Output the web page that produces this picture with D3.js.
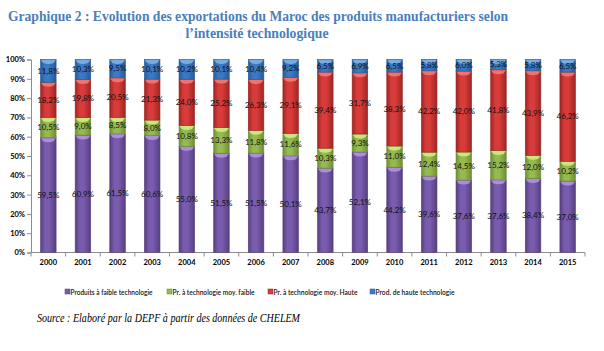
<!DOCTYPE html>
<html>
<head>
<meta charset="utf-8">
<script src="https://cdn.jsdelivr.net/npm/d3@7"></script>
<style>
  body { margin: 0; background: #fff; }
  svg { display: block; }
  .title { font-family: "Liberation Serif", "DejaVu Serif", serif; font-weight: bold; fill: #4a7ebb; }
  .axis text { font-family: Lato, "Liberation Sans", sans-serif; font-weight: bold; font-size: 7.5px; fill: #000; }
  .axis path, .axis line { stroke: #8c8c8c; }
  .lbl { font-family: Lato, "Liberation Sans", sans-serif; font-size: 8px; fill: #111; }
  .legend text { font-family: Lato, "Liberation Sans", sans-serif; font-size: 7.8px; font-weight: 600; fill: #111; }
  .source { font-family: "Liberation Serif", serif; font-style: italic; font-size: 13.5px; fill: #000; }
</style>
</head>
<body>
<div id="chart"></div>
<script>
// years on the x axis
const years = ['2000','2001','2002','2003','2004','2005','2006','2007',
               '2008','2009','2010','2011','2012','2013','2014','2015'];

// shares in %
const faible   = [59.5, 60.9, 61.5, 60.6, 55.0, 51.5, 51.5, 50.1, 43.7, 52.1, 44.2, 39.6, 37.6, 37.6, 38.4, 37.0];
const moyFaible = [10.5, 9.0, 8.5, 8.0, 10.8, 13.3, 11.8, 11.6, 10.3, 9.3, 11.0, 12.4, 14.5, 15.2, 12.0, 10.2];
const moyHaute = [18.2, 19.8, 20.5, 21.3, 24.0, 25.2, 26.3, 29.1, 39.4, 31.7, 38.3, 42.2, 42.0, 41.8, 43.9, 46.2];
const haute    = [11.8, 10.3, 9.5, 10.1, 10.2, 10.1, 10.4, 9.2, 6.5, 6.9, 6.5, 5.8, 6.0, 5.3, 5.8, 6.5];

const seriesNames = ['Produits à faible technologie', 'Pr. à technologie moy. faible',
                     'Pr. à technologie moy. Haute', 'Prod. de haute technologie'];
const yTicks = [0, 0.1, 0.2, 0.3, 0.4, 0.5, 0.6, 0.7, 0.8, 0.9, 1];

const colors = ['#7a5cae', '#97ba50', '#d83c3a', '#3b79c4'];
const lightColors = ['#b193e0', '#d0ea84', '#f27a76', '#7cb2ea'];
const darkColors = ['#55407f', '#6e8f33', '#9e2624', '#285a98'];

const W = 604, H = 351;
const margin = {left: 31, right: 19, top: 59.5, bottom: 98.5};

const svg = d3.select('#chart').append('svg')
  .attr('width', W).attr('height', H);

// title
svg.append('text').attr('class', 'title')
  .attr('x', 258).attr('y', 21).attr('text-anchor', 'middle').style('font-size', '15px')
  .attr('textLength', 500).attr('lengthAdjust', 'spacingAndGlyphs')
  .text('Graphique 2 : Evolution des exportations du Maroc des produits manufacturiers selon');
svg.append('text').attr('class', 'title')
  .attr('x', 257).attr('y', 38).attr('text-anchor', 'middle').style('font-size', '15px')
  .attr('textLength', 143).attr('lengthAdjust', 'spacingAndGlyphs')
  .text('l\u2019intensité technologique');

// build table for the stack
const table = years.map((y, i) => ({year: y, s0: faible[i], s1: moyFaible[i], s2: moyHaute[i], s3: haute[i]}));
const keys = ['s0', 's1', 's2', 's3'];
const stacked = d3.stack().keys(keys).offset(d3.stackOffsetExpand)(table);

const x = d3.scaleBand().domain(years)
  .range([margin.left, W - margin.right]).paddingInner(0.55).paddingOuter(0.275);
const y = d3.scaleLinear().domain([0, 1]).range([H - margin.bottom, margin.top]);

// cylinder-ish gradients, like the Excel bars
const defs = svg.append('defs');
keys.forEach((k, i) => {
  const g = defs.append('linearGradient').attr('id', 'grad' + i)
    .attr('x1', '0%').attr('x2', '100%').attr('y1', '0%').attr('y2', '0%');
  g.append('stop').attr('offset', '0%').attr('stop-color', darkColors[i]);
  g.append('stop').attr('offset', '30%').attr('stop-color', colors[i]);
  g.append('stop').attr('offset', '55%').attr('stop-color', colors[i]);
  g.append('stop').attr('offset', '100%').attr('stop-color', darkColors[i]);
});

// axes
svg.append('g').attr('class', 'axis')
  .attr('transform', `translate(${margin.left},0)`)
  .call(d3.axisLeft(y).tickValues(yTicks).tickFormat(d3.format('.0%')).tickSize(4).tickPadding(2));

const xAxis = svg.append('g').attr('class', 'axis')
  .attr('transform', `translate(0,${H - margin.bottom})`)
  .call(d3.axisBottom(x).tickSize(0).tickPadding(7));
xAxis.select('.domain').attr('d', `M${margin.left},0H${W - margin.right}`);
// tick marks between categories
xAxis.selectAll('.sep').data(d3.range(years.length + 1)).enter().append('line')
  .attr('class', 'sep')
  .attr('x1', i => margin.left + i * x.step()).attr('x2', i => margin.left + i * x.step())
  .attr('y1', 0).attr('y2', 4);

// bars
const layers = svg.selectAll('.layer').data(stacked).enter().append('g')
  .attr('class', 'layer');

layers.each(function(layer, li) {
  const g = d3.select(this);
  g.selectAll('rect.seg').data(layer).enter().append('rect')
    .attr('class', 'seg')
    .attr('x', d => x(d.data.year))
    .attr('width', x.bandwidth())
    .attr('y', d => y(d[1]))
    .attr('height', d => y(d[0]) - y(d[1]))
    .attr('fill', 'url(#grad' + li + ')')
    .attr('stroke', darkColors[li]).attr('stroke-width', 0.6);
  // light top cap
  g.selectAll('path.cap').data(layer).enter().append('path')
    .attr('class', 'cap')
    .attr('d', d => {
      const x0 = x(d.data.year) + 0.5, x1 = x0 + x.bandwidth() - 1, yy = y(d[1]) + 0.5;
      const xm = (x0 + x1) / 2;
      return `M${x0},${yy}L${x1},${yy}L${x1 - 2},${yy + 3}Q${xm},${yy + 5} ${x0 + 2},${yy + 3}Z`;
    })
    .attr('fill', lightColors[li]).attr('opacity', 0.9);
});

// value labels
layers.each(function(layer, li) {
  d3.select(this).selectAll('text.lbl').data(layer).enter().append('text')
    .attr('class', 'lbl')
    .attr('x', d => x(d.data.year) + x.bandwidth() / 2)
    .attr('y', d => (y(d[0]) + y(d[1])) / 2 + 2.8)
    .attr('text-anchor', 'middle')
    .text(d => d.data[keys[li]].toFixed(1).replace('.', ',') + '%');
});

// legend
const legendX = [65, 167, 268, 370];
const legendW = [82, 82, 84, 79];
const legend = svg.append('g').attr('class', 'legend');
seriesNames.forEach((name, i) => {
  legend.append('rect').attr('x', legendX[i]).attr('y', 289).attr('width', 5).attr('height', 5)
    .attr('fill', colors[i]).attr('stroke', darkColors[i]).attr('stroke-width', 0.5);
  legend.append('text').attr('x', legendX[i] + 5.5).attr('y', 294.5)
    .attr('textLength', legendW[i]).attr('lengthAdjust', 'spacingAndGlyphs').text(name);
});

// source
svg.append('text').attr('class', 'source').attr('x', 37).attr('y', 322)
  .attr('textLength', 263).attr('lengthAdjust', 'spacingAndGlyphs')
  .text('Source : Elaboré par la DEPF à partir des données de CHELEM');
</script>
</body>
</html>
